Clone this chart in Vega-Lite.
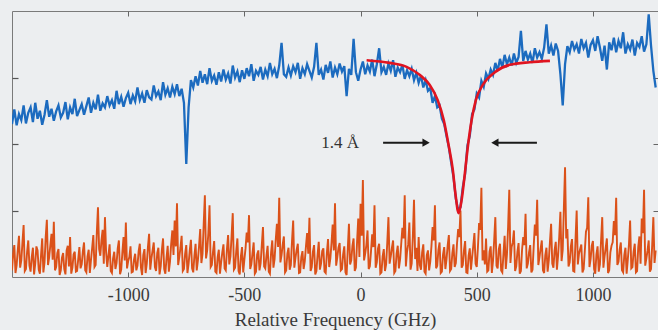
{
"$schema": "https://vega.github.io/schema/vega-lite/v6.json",
"width": 646, "height": 266,
"autosize": {"type": "none"},
"padding": {"left": 12, "top": 11, "right": 0, "bottom": 53},
"background": "#eceef0",
"config": {"view": {"stroke": "#7a7a7a", "strokeWidth": 1}, "axis": {"domain": false, "grid": false}},
"data": {"values": [
{"x":-1500,"b":2.30,"o":0.10},{"x":-1490,"b":2.52,"o":0.48},{"x":-1480,"b":2.28,"o":0.18},{"x":-1470,"b":2.45,"o":0.62},{"x":-1460,"b":2.36,"o":0.25},{"x":-1450,"b":2.58,"o":0.78},{"x":-1440,"b":2.31,"o":0.12},{"x":-1430,"b":2.47,"o":0.55},{"x":-1420,"b":2.55,"o":0.08},{"x":-1410,"b":2.33,"o":0.44},
{"x":-1400,"b":2.62,"o":0.20},{"x":-1390,"b":2.38,"o":0.40},{"x":-1380,"b":2.50,"o":0.05},{"x":-1370,"b":2.29,"o":0.58},{"x":-1360,"b":2.44,"o":0.22},{"x":-1350,"b":2.66,"o":0.86},{"x":-1340,"b":2.41,"o":0.30},{"x":-1330,"b":2.53,"o":0.65},{"x":-1320,"b":2.35,"o":0.83},{"x":-1310,"b":2.49,"o":0.15},
{"x":-1300,"b":2.58,"o":0.42},{"x":-1290,"b":2.40,"o":0.10},{"x":-1280,"b":2.47,"o":0.36},{"x":-1270,"b":2.63,"o":0.04},{"x":-1260,"b":2.37,"o":0.47},{"x":-1250,"b":2.55,"o":0.60},{"x":-1240,"b":2.45,"o":0.14},{"x":-1230,"b":2.68,"o":0.38},{"x":-1220,"b":2.42,"o":0.09},{"x":-1210,"b":2.51,"o":0.45},
{"x":-1200,"b":2.60,"o":0.19},{"x":-1190,"b":2.44,"o":0.52},{"x":-1180,"b":2.57,"o":0.07},{"x":-1170,"b":2.70,"o":0.41},{"x":-1160,"b":2.47,"o":0.26},{"x":-1150,"b":2.62,"o":0.63},{"x":-1140,"b":2.52,"o":0.18},{"x":-1130,"b":2.74,"o":1.05},{"x":-1120,"b":2.50,"o":0.32},{"x":-1110,"b":2.61,"o":0.71},
{"x":-1100,"b":2.55,"o":0.90},{"x":-1090,"b":2.72,"o":0.15},{"x":-1080,"b":2.58,"o":0.49},{"x":-1070,"b":2.66,"o":0.06},{"x":-1060,"b":2.53,"o":0.38},{"x":-1050,"b":2.80,"o":0.21},{"x":-1040,"b":2.60,"o":0.55},{"x":-1030,"b":2.71,"o":0.11},{"x":-1020,"b":2.56,"o":0.60},{"x":-1010,"b":2.69,"o":0.82},
{"x":-1000,"b":2.77,"o":0.24},{"x":-990,"b":2.60,"o":0.46},{"x":-980,"b":2.73,"o":0.08},{"x":-970,"b":2.64,"o":0.35},{"x":-960,"b":2.85,"o":0.17},{"x":-950,"b":2.66,"o":0.50},{"x":-940,"b":2.76,"o":0.03},{"x":-930,"b":2.62,"o":0.42},{"x":-920,"b":2.81,"o":0.20},{"x":-910,"b":2.70,"o":0.65},
{"x":-900,"b":2.67,"o":0.28},{"x":-890,"b":2.88,"o":0.52},{"x":-880,"b":2.72,"o":0.09},{"x":-870,"b":2.79,"o":0.44},{"x":-860,"b":2.66,"o":0.16},{"x":-850,"b":2.93,"o":0.58},{"x":-840,"b":2.74,"o":0.05},{"x":-830,"b":2.84,"o":0.47},{"x":-820,"b":2.70,"o":0.23},{"x":-810,"b":2.86,"o":0.70},
{"x":-800,"b":2.75,"o":0.85},{"x":-790,"b":2.90,"o":1.11},{"x":-780,"b":2.72,"o":0.30},{"x":-770,"b":2.83,"o":0.62},{"x":-760,"b":2.62,"o":0.12},{"x":-750,"b":1.70,"o":0.48},{"x":-740,"b":2.55,"o":0.20},{"x":-730,"b":2.96,"o":0.56},{"x":-720,"b":2.85,"o":0.07},{"x":-710,"b":3.02,"o":0.50},
{"x":-700,"b":2.88,"o":0.25},{"x":-690,"b":3.10,"o":0.72},{"x":-680,"b":2.92,"o":0.35},{"x":-670,"b":3.05,"o":1.23},{"x":-660,"b":2.90,"o":0.40},{"x":-650,"b":3.14,"o":1.08},{"x":-640,"b":2.95,"o":0.18},{"x":-630,"b":3.03,"o":0.54},{"x":-620,"b":2.89,"o":0.06},{"x":-610,"b":3.08,"o":0.41},
{"x":-600,"b":2.94,"o":0.22},{"x":-590,"b":3.12,"o":0.49},{"x":-580,"b":2.97,"o":0.10},{"x":-570,"b":3.06,"o":0.63},{"x":-560,"b":2.91,"o":0.31},{"x":-550,"b":3.18,"o":0.96},{"x":-540,"b":3.00,"o":0.14},{"x":-530,"b":3.09,"o":0.58},{"x":-520,"b":2.93,"o":0.04},{"x":-510,"b":3.11,"o":0.45},
{"x":-500,"b":2.98,"o":0.26},{"x":-490,"b":3.14,"o":0.67},{"x":-480,"b":3.02,"o":0.93},{"x":-470,"b":3.20,"o":0.19},{"x":-460,"b":2.95,"o":0.52},{"x":-450,"b":3.10,"o":0.08},{"x":-440,"b":3.04,"o":0.40},{"x":-430,"b":3.16,"o":0.21},{"x":-420,"b":2.97,"o":0.75},{"x":-410,"b":3.12,"o":0.13},
{"x":-400,"b":3.02,"o":0.47},{"x":-390,"b":3.22,"o":0.05},{"x":-380,"b":3.05,"o":0.55},{"x":-370,"b":3.13,"o":0.27},{"x":-360,"b":2.99,"o":0.80},{"x":-350,"b":3.18,"o":1.19},{"x":-340,"b":3.52,"o":0.33},{"x":-330,"b":3.05,"o":0.61},{"x":-320,"b":3.01,"o":0.10},{"x":-310,"b":3.15,"o":0.44},
{"x":-300,"b":3.03,"o":0.18},{"x":-290,"b":3.17,"o":0.85},{"x":-280,"b":3.08,"o":0.29},{"x":-270,"b":3.22,"o":0.50},{"x":-260,"b":2.98,"o":0.07},{"x":-250,"b":3.14,"o":0.39},{"x":-240,"b":3.05,"o":0.24},{"x":-230,"b":3.20,"o":0.66},{"x":-220,"b":3.10,"o":0.89},{"x":-210,"b":3.00,"o":0.15},
{"x":-200,"b":3.16,"o":0.48},{"x":-190,"b":3.52,"o":0.09},{"x":-180,"b":3.04,"o":0.53},{"x":-170,"b":3.12,"o":0.20},{"x":-160,"b":2.97,"o":0.43},{"x":-150,"b":3.19,"o":0.06},{"x":-140,"b":3.07,"o":0.57},{"x":-130,"b":3.24,"o":0.28},{"x":-120,"b":3.00,"o":0.79},{"x":-110,"b":3.15,"o":1.11},
{"x":-100,"b":3.05,"o":0.30},{"x":-90,"b":3.21,"o":0.51},{"x":-80,"b":3.09,"o":0.12},{"x":-70,"b":3.17,"o":0.46},{"x":-60,"b":2.72,"o":0.03},{"x":-50,"b":3.13,"o":0.80},{"x":-40,"b":3.04,"o":0.25},{"x":-30,"b":3.58,"o":0.58},{"x":-20,"b":3.08,"o":0.14},{"x":-10,"b":2.95,"o":0.88},
{"x":0,"b":3.12,"o":1.10},{"x":10,"b":3.24,"o":1.46},{"x":20,"b":3.05,"o":0.35},{"x":30,"b":3.18,"o":0.70},{"x":40,"b":3.09,"o":0.16},{"x":50,"b":3.27,"o":0.64},{"x":60,"b":3.02,"o":1.08},{"x":70,"b":3.20,"o":0.22},{"x":80,"b":3.44,"o":0.50},{"x":90,"b":3.08,"o":0.07},
{"x":100,"b":3.16,"o":0.42},{"x":110,"b":3.04,"o":0.19},{"x":120,"b":3.21,"o":0.90},{"x":130,"b":3.10,"o":0.31},{"x":140,"b":3.26,"o":0.55},{"x":150,"b":3.01,"o":0.09},{"x":160,"b":3.15,"o":0.47},{"x":170,"b":3.08,"o":0.26},{"x":180,"b":3.19,"o":0.74},{"x":190,"b":2.98,"o":1.23},
{"x":200,"b":3.11,"o":0.38},{"x":210,"b":3.02,"o":0.82},{"x":220,"b":3.13,"o":0.20},{"x":230,"b":2.96,"o":1.16},{"x":240,"b":3.07,"o":0.44},{"x":250,"b":2.92,"o":0.60},{"x":260,"b":3.03,"o":0.11},{"x":270,"b":2.85,"o":0.49},{"x":280,"b":2.96,"o":0.05},{"x":290,"b":2.80,"o":0.40},
{"x":300,"b":2.84,"o":0.23},{"x":310,"b":2.62,"o":0.75},{"x":320,"b":2.72,"o":1.08},{"x":330,"b":2.55,"o":0.17},{"x":340,"b":2.58,"o":0.52},{"x":350,"b":2.38,"o":0.08},{"x":360,"b":2.30,"o":0.45},{"x":370,"b":2.12,"o":0.27},{"x":380,"b":1.95,"o":0.63},{"x":390,"b":1.72,"o":0.12},
{"x":400,"b":1.50,"o":0.49},{"x":410,"b":1.18,"o":0.21},{"x":420,"b":1.00,"o":0.72},{"x":430,"b":1.05,"o":1.00},{"x":440,"b":1.35,"o":0.18},{"x":450,"b":1.55,"o":0.54},{"x":460,"b":1.98,"o":0.06},{"x":470,"b":2.12,"o":0.43},{"x":480,"b":2.45,"o":0.29},{"x":490,"b":2.52,"o":0.66},
{"x":500,"b":2.76,"o":0.15},{"x":510,"b":2.70,"o":0.81},{"x":520,"b":2.95,"o":1.34},{"x":530,"b":2.86,"o":0.40},{"x":540,"b":3.06,"o":0.58},{"x":550,"b":2.98,"o":0.10},{"x":560,"b":3.12,"o":0.46},{"x":570,"b":3.04,"o":0.24},{"x":580,"b":3.22,"o":0.90},{"x":590,"b":3.10,"o":0.13},
{"x":600,"b":3.28,"o":0.50},{"x":610,"b":3.15,"o":0.07},{"x":620,"b":3.34,"o":0.62},{"x":630,"b":3.20,"o":0.34},{"x":640,"b":3.30,"o":1.31},{"x":650,"b":3.18,"o":0.45},{"x":660,"b":3.36,"o":0.70},{"x":670,"b":3.22,"o":0.16},{"x":680,"b":3.31,"o":0.51},{"x":690,"b":3.70,"o":0.09},
{"x":700,"b":3.25,"o":0.60},{"x":710,"b":3.40,"o":0.95},{"x":720,"b":3.27,"o":0.20},{"x":730,"b":3.36,"o":0.48},{"x":740,"b":3.22,"o":0.11},{"x":750,"b":3.44,"o":0.79},{"x":760,"b":3.30,"o":1.16},{"x":770,"b":3.38,"o":0.30},{"x":780,"b":3.28,"o":0.55},{"x":790,"b":3.45,"o":0.06},
{"x":800,"b":3.80,"o":0.44},{"x":810,"b":3.36,"o":0.25},{"x":820,"b":3.48,"o":0.80},{"x":830,"b":3.33,"o":0.14},{"x":840,"b":3.51,"o":0.53},{"x":850,"b":3.40,"o":0.32},{"x":860,"b":3.05,"o":0.98},{"x":870,"b":2.58,"o":0.41},{"x":880,"b":3.20,"o":1.65},{"x":890,"b":3.47,"o":0.72},
{"x":900,"b":3.38,"o":0.22},{"x":910,"b":3.55,"o":0.57},{"x":920,"b":3.42,"o":0.08},{"x":930,"b":3.50,"o":1.00},{"x":940,"b":3.36,"o":0.35},{"x":950,"b":3.58,"o":0.49},{"x":960,"b":3.44,"o":0.12},{"x":970,"b":3.52,"o":0.68},{"x":980,"b":3.30,"o":1.20},{"x":990,"b":3.49,"o":0.27},
{"x":1000,"b":3.56,"o":0.54},{"x":1010,"b":3.40,"o":0.05},{"x":1020,"b":3.62,"o":0.46},{"x":1030,"b":3.45,"o":0.19},{"x":1040,"b":3.25,"o":0.90},{"x":1050,"b":3.48,"o":0.31},{"x":1060,"b":3.12,"o":0.58},{"x":1070,"b":3.53,"o":0.10},{"x":1080,"b":3.41,"o":0.47},{"x":1090,"b":3.60,"o":0.84},
{"x":1100,"b":3.38,"o":1.19},{"x":1110,"b":3.55,"o":0.23},{"x":1120,"b":3.44,"o":0.52},{"x":1130,"b":3.68,"o":0.07},{"x":1140,"b":3.36,"o":0.44},{"x":1150,"b":3.50,"o":0.26},{"x":1160,"b":3.42,"o":0.85},{"x":1170,"b":3.57,"o":0.15},{"x":1180,"b":3.33,"o":0.50},{"x":1190,"b":3.52,"o":0.09},
{"x":1200,"b":3.46,"o":0.61},{"x":1210,"b":3.62,"o":0.88},{"x":1220,"b":3.39,"o":1.31},{"x":1230,"b":3.50,"o":0.28},{"x":1240,"b":3.95,"o":0.55},{"x":1250,"b":3.48,"o":0.12},{"x":1260,"b":3.10,"o":0.90},{"x":1270,"b":2.85,"o":0.40},
{"x":-1495,"o":0.35},{"x":-1485,"o":0.06},{"x":-1475,"o":0.41},{"x":-1465,"o":0.14},{"x":-1455,"o":0.52},{"x":-1445,"o":0.09},{"x":-1435,"o":0.38},{"x":-1425,"o":0.17},{"x":-1415,"o":0.30},{"x":-1405,"o":0.04},
{"x":-1395,"o":0.46},{"x":-1385,"o":0.11},{"x":-1375,"o":0.33},{"x":-1365,"o":0.07},{"x":-1355,"o":0.60},{"x":-1345,"o":0.18},{"x":-1335,"o":0.48},{"x":-1325,"o":0.26},{"x":-1315,"o":0.10},{"x":-1305,"o":0.36},
{"x":-1295,"o":0.03},{"x":-1285,"o":0.29},{"x":-1275,"o":0.12},{"x":-1265,"o":0.40},{"x":-1255,"o":0.16},{"x":-1245,"o":0.05},{"x":-1235,"o":0.34},{"x":-1225,"o":0.08},{"x":-1215,"o":0.27},{"x":-1205,"o":0.13},
{"x":-1195,"o":0.39},{"x":-1185,"o":0.10},{"x":-1175,"o":0.31},{"x":-1165,"o":0.06},{"x":-1155,"o":0.44},{"x":-1145,"o":0.15},{"x":-1135,"o":0.67},{"x":-1125,"o":0.42},{"x":-1115,"o":0.55},{"x":-1105,"o":0.20},
{"x":-1095,"o":0.37},{"x":-1085,"o":0.32},{"x":-1075,"o":0.09},{"x":-1065,"o":0.28},{"x":-1055,"o":0.12},{"x":-1045,"o":0.43},{"x":-1035,"o":0.04},{"x":-1025,"o":0.37},{"x":-1015,"o":0.25},{"x":-1005,"o":0.13},
{"x":-995,"o":0.30},{"x":-985,"o":0.07},{"x":-975,"o":0.26},{"x":-965,"o":0.10},{"x":-955,"o":0.39},{"x":-945,"o":0.14},{"x":-935,"o":0.33},{"x":-925,"o":0.06},{"x":-915,"o":0.45},{"x":-905,"o":0.11},
{"x":-895,"o":0.40},{"x":-885,"o":0.15},{"x":-875,"o":0.36},{"x":-865,"o":0.04},{"x":-855,"o":0.41},{"x":-845,"o":0.12},{"x":-835,"o":0.29},{"x":-825,"o":0.08},{"x":-815,"o":0.50},{"x":-805,"o":0.33},
{"x":-795,"o":0.46},{"x":-785,"o":0.18},{"x":-775,"o":0.44},{"x":-765,"o":0.09},{"x":-755,"o":0.35},{"x":-745,"o":0.06},{"x":-735,"o":0.40},{"x":-725,"o":0.13},{"x":-715,"o":0.32},{"x":-705,"o":0.10},
{"x":-695,"o":0.47},{"x":-685,"o":0.21},{"x":-675,"o":0.80},{"x":-665,"o":0.28},{"x":-655,"o":0.66},{"x":-645,"o":0.15},{"x":-635,"o":0.38},{"x":-625,"o":0.08},{"x":-615,"o":0.30},{"x":-605,"o":0.05},
{"x":-595,"o":0.37},{"x":-585,"o":0.13},{"x":-575,"o":0.42},{"x":-565,"o":0.19},{"x":-555,"o":0.62},{"x":-545,"o":0.11},{"x":-535,"o":0.39},{"x":-525,"o":0.09},{"x":-515,"o":0.31},{"x":-505,"o":0.07},
{"x":-495,"o":0.43},{"x":-485,"o":0.52},{"x":-475,"o":0.12},{"x":-465,"o":0.36},{"x":-455,"o":0.05},{"x":-445,"o":0.34},{"x":-435,"o":0.10},{"x":-425,"o":0.48},{"x":-415,"o":0.16},{"x":-405,"o":0.32},
{"x":-395,"o":0.08},{"x":-385,"o":0.37},{"x":-375,"o":0.14},{"x":-365,"o":0.56},{"x":-355,"o":0.45},{"x":-345,"o":0.22},{"x":-335,"o":0.49},{"x":-325,"o":0.07},{"x":-315,"o":0.35},{"x":-305,"o":0.11},
{"x":-295,"o":0.54},{"x":-285,"o":0.14},{"x":-275,"o":0.41},{"x":-265,"o":0.06},{"x":-255,"o":0.30},{"x":-245,"o":0.12},{"x":-235,"o":0.46},{"x":-225,"o":0.35},{"x":-215,"o":0.09},{"x":-205,"o":0.38},
{"x":-195,"o":0.04},{"x":-185,"o":0.33},{"x":-175,"o":0.11},{"x":-165,"o":0.39},{"x":-155,"o":0.08},{"x":-145,"o":0.36},{"x":-135,"o":0.15},{"x":-125,"o":0.51},{"x":-115,"o":0.40},{"x":-105,"o":0.17},
{"x":-95,"o":0.44},{"x":-85,"o":0.10},{"x":-75,"o":0.34},{"x":-65,"o":0.07},{"x":-55,"o":0.42},{"x":-45,"o":0.19},{"x":-35,"o":0.47},{"x":-25,"o":0.09},{"x":-15,"o":0.53},{"x":-5,"o":0.30},
{"x":5,"o":0.62},{"x":15,"o":0.25},{"x":25,"o":0.48},{"x":35,"o":0.12},{"x":45,"o":0.39},{"x":55,"o":0.45},{"x":65,"o":0.14},{"x":75,"o":0.43},{"x":85,"o":0.05},{"x":95,"o":0.31},
{"x":105,"o":0.09},{"x":115,"o":0.52},{"x":125,"o":0.20},{"x":135,"o":0.44},{"x":145,"o":0.06},{"x":155,"o":0.35},{"x":165,"o":0.13},{"x":175,"o":0.50},{"x":185,"o":0.58},{"x":195,"o":0.16},
{"x":205,"o":0.49},{"x":215,"o":0.11},{"x":225,"o":0.61},{"x":235,"o":0.27},{"x":245,"o":0.09},{"x":255,"o":0.18},{"x":265,"o":0.37},{"x":275,"o":0.08},{"x":285,"o":0.33},{"x":295,"o":0.10},
{"x":305,"o":0.46},{"x":315,"o":0.55},{"x":325,"o":0.13},{"x":335,"o":0.41},{"x":345,"o":0.06},{"x":355,"o":0.34},{"x":365,"o":0.12},{"x":375,"o":0.48},{"x":385,"o":0.09},{"x":395,"o":0.36},
{"x":405,"o":0.15},{"x":415,"o":0.50},{"x":425,"o":0.60},{"x":435,"o":0.14},{"x":445,"o":0.40},{"x":455,"o":0.07},{"x":465,"o":0.32},{"x":475,"o":0.11},{"x":485,"o":0.47},{"x":495,"o":0.20},
{"x":505,"o":0.44},{"x":515,"o":0.71},{"x":525,"o":0.25},{"x":535,"o":0.19},{"x":545,"o":0.08},{"x":555,"o":0.38},{"x":565,"o":0.06},{"x":575,"o":0.55},{"x":585,"o":0.17},{"x":595,"o":0.42},
{"x":605,"o":0.10},{"x":615,"o":0.35},{"x":625,"o":0.12},{"x":635,"o":0.76},{"x":645,"o":0.21},{"x":655,"o":0.52},{"x":665,"o":0.09},{"x":675,"o":0.38},{"x":685,"o":0.05},{"x":695,"o":0.41},
{"x":705,"o":0.48},{"x":715,"o":0.13},{"x":725,"o":0.37},{"x":735,"o":0.07},{"x":745,"o":0.45},{"x":755,"o":0.62},{"x":765,"o":0.18},{"x":775,"o":0.43},{"x":785,"o":0.10},{"x":795,"o":0.33},
{"x":805,"o":0.08},{"x":815,"o":0.53},{"x":825,"o":0.20},{"x":835,"o":0.40},{"x":845,"o":0.11},{"x":855,"o":0.61},{"x":865,"o":0.24},{"x":875,"o":1.05},{"x":885,"o":0.58},{"x":895,"o":0.16},
{"x":905,"o":0.46},{"x":915,"o":0.09},{"x":925,"o":0.56},{"x":935,"o":0.19},{"x":945,"o":0.42},{"x":955,"o":0.07},{"x":965,"o":0.39},{"x":975,"o":0.74},{"x":985,"o":0.15},{"x":995,"o":0.47},
{"x":1005,"o":0.12},{"x":1015,"o":0.34},{"x":1025,"o":0.08},{"x":1035,"o":0.55},{"x":1045,"o":0.14},{"x":1055,"o":0.44},{"x":1065,"o":0.06},{"x":1075,"o":0.37},{"x":1085,"o":0.52},{"x":1095,"o":0.63},
{"x":1105,"o":0.18},{"x":1115,"o":0.41},{"x":1125,"o":0.10},{"x":1135,"o":0.33},{"x":1145,"o":0.05},{"x":1155,"o":0.49},{"x":1165,"o":0.13},{"x":1175,"o":0.38},{"x":1185,"o":0.07},{"x":1195,"o":0.45},
{"x":1205,"o":0.20},{"x":1215,"o":0.66},{"x":1225,"o":0.17},{"x":1235,"o":0.40},{"x":1245,"o":0.08},{"x":1255,"o":0.48},{"x":1265,"o":0.21}
]},
"resolve": {"axis": {"x": "independent", "y": "independent"}},
"layer": [
{"transform": [{"filter": "isValid(datum.b)"}],
 "mark": {"type": "line", "color": "#1c6bbf", "strokeWidth": 2.3, "clip": true},
 "encoding": {
  "x": {"field": "x", "type": "quantitative", "scale": {"domain": [-1500, 1280], "nice": false, "zero": false},
   "axis": {"orient": "bottom", "values": [-1000, -500, 0, 500, 1000], "labelExpr": "'' + datum.value", "tickSize": -5, "tickColor": "#666666", "labelFont": "Liberation Serif", "labelFontSize": 18, "labelColor": "#3a3a3a", "labelPadding": 14, "title": "Relative Frequency (GHz)", "titleFont": "Liberation Serif", "titleFontSize": 19, "titleFontWeight": "normal", "titleColor": "#3a3a3a", "titlePadding": 6}},
  "y": {"field": "b", "type": "quantitative", "scale": {"domain": [0, 4], "nice": false, "zero": false},
   "axis": {"orient": "left", "values": [1, 2, 3], "tickSize": -6, "tickColor": "#555555", "tickWidth": 1.2, "labels": false, "title": null}}
 }},
{"mark": {"type": "line", "color": "#db5119", "strokeWidth": 1.9, "clip": true},
 "encoding": {
  "x": {"field": "x", "type": "quantitative", "axis": null},
  "y": {"field": "o", "type": "quantitative", "axis": null}
 }},
{"data": {"values": [
{"x":26,"y":3.26},{"x":125,"y":3.22},{"x":198,"y":3.16},{"x":254,"y":3.04},{"x":297,"y":2.89},{"x":332,"y":2.66},{"x":358,"y":2.36},{"x":379,"y":1.98},{"x":397,"y":1.61},{"x":409,"y":1.23},{"x":422,"y":0.96},{"x":435,"y":1.16},{"x":448,"y":1.53},{"x":461,"y":1.94},{"x":478,"y":2.36},{"x":496,"y":2.66},{"x":526,"y":2.89},{"x":578,"y":3.08},{"x":642,"y":3.19},{"x":728,"y":3.23},{"x":815,"y":3.25}
 ]},
 "mark": {"type": "line", "color": "#e01420", "strokeWidth": 2.6, "interpolate": "monotone", "clip": true},
 "encoding": {
  "x": {"field": "x", "type": "quantitative", "axis": {"orient": "top", "values": [-1000, -500, 0, 500, 1000], "tickSize": -5, "tickColor": "#666666", "labels": false, "title": null}},
  "y": {"field": "y", "type": "quantitative", "axis": {"orient": "right", "values": [1, 2, 3], "tickSize": -5, "tickColor": "#666666", "labels": false, "title": null}}
 }},
{"data": {"values": [{"x1": 97, "x2": 285, "y": 2.02}, {"x1": 575, "x2": 759, "y": 2.02}]},
 "mark": {"type": "rule", "color": "#1a1a1a", "strokeWidth": 2},
 "encoding": {
  "x": {"field": "x1", "type": "quantitative", "axis": null},
  "x2": {"field": "x2"},
  "y": {"field": "y", "type": "quantitative", "axis": null}
 }},
{"data": {"values": [{"x": 282, "y": 2.02, "d": "r"}, {"x": 578, "y": 2.02, "d": "l"}]},
 "mark": {"type": "point", "filled": true, "color": "#1a1a1a", "size": 70, "opacity": 1},
 "encoding": {
  "x": {"field": "x", "type": "quantitative", "axis": null},
  "y": {"field": "y", "type": "quantitative", "axis": null},
  "shape": {"field": "d", "type": "nominal", "scale": {"domain": ["r", "l"], "range": ["triangle-right", "triangle-left"]}, "legend": null}
 }},
{"data": {"values": [{"x": -88, "y": 2.02, "t": "1.4 Å"}]},
 "mark": {"type": "text", "font": "Liberation Serif", "fontSize": 17, "color": "#333333", "baseline": "middle", "align": "center"},
 "encoding": {
  "x": {"field": "x", "type": "quantitative", "axis": null},
  "y": {"field": "y", "type": "quantitative", "axis": null},
  "text": {"field": "t"}
 }}
]
}
